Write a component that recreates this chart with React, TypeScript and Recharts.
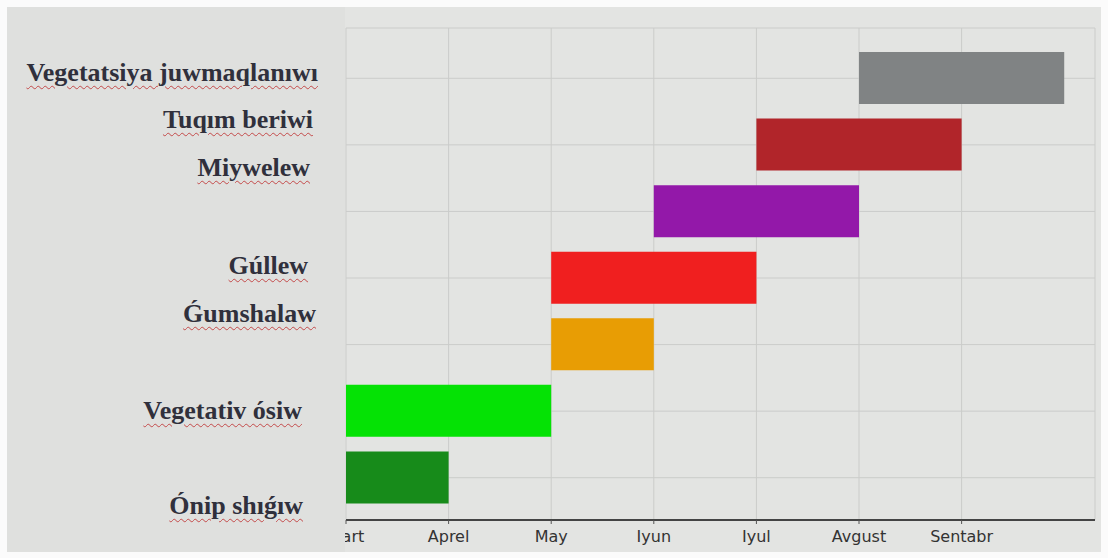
import React from 'react'
import { BarChart, Bar, XAxis, YAxis, CartesianGrid, Cell } from 'recharts'

// Phenology stages, top row first (months counted from Mart = 0)
const stages = [
  'Vegetatsiya juwmaqlanıwı',
  'Tuqım beriwi',
  'Miywelew',
  'Gúllew',
  'Ǵumshalaw',
  'Vegetativ ósiw',
  'Ónip shıǵıw',
]
const starts = [5, 4, 3, 2, 2, 0, 0]
const ends = [7, 6, 5, 4, 3, 2, 1]
const colors = ['#808384', '#b1252a', '#9318a9', '#f01f1f', '#e89d04', '#05e205', '#178b1a']

const months = ['Mart', 'Aprel', 'May', 'Iyun', 'Iyul', 'Avgust', 'Sentabr']
const monthTicks = [0, 1, 2, 3, 4, 5, 6]

// text boxes pasted over the left side (they don't line up with the bars)
const noteNames = [
  'Vegetatsiya juwmaqlanıwı',
  'Tuqım beriwi',
  'Miywelew',
  'Gúllew',
  'Ǵumshalaw',
  'Vegetativ ósiw',
  'Ónip shıǵıw',
]
const noteCenters = [73, 120, 168, 266, 314, 411, 506]
const noteRights = [318, 313, 310, 308, 316, 302, 303]

const data = stages.map((name, i) => ({ name, range: [starts[i], ends[i]] }))

const W = 1108
const H = 558
const PLOT_LEFT = 346

const YTick = (props: any) => (
  <line x1={PLOT_LEFT} x2={PLOT_LEFT + 5} y1={props.y} y2={props.y} stroke="#666" strokeWidth={1.5} />
)

export default function App() {
  return (
    <div style={{ position: 'absolute', left: 0, top: 0, width: W, height: H, background: '#fbfbfb', overflow: 'hidden' }}>
      <div style={{ position: 'absolute', left: 7, top: 7, width: 1094, height: 545, background: '#e3e4e2' }} />
      <div style={{ position: 'absolute', left: 0, top: 0 }}>
        <BarChart
          width={W}
          height={H}
          data={data}
          layout="vertical"
          margin={{ top: 28, right: 13, bottom: 8, left: PLOT_LEFT }}
        >
          <CartesianGrid stroke="#cbccca" strokeWidth={1} />
          <XAxis
            type="number"
            domain={[0, 7.3]}
            ticks={monthTicks}
            tickFormatter={(v: number) => months[v]}
            allowDataOverflow
            height={30}
            axisLine={{ stroke: '#444', strokeWidth: 2 }}
            tickLine={{ stroke: '#555' }}
            tickSize={4}
            tick={{ fill: '#333', fontSize: 16, fontFamily: 'DejaVu Sans', dy: 5 }}
          />
          <YAxis
            type="category"
            dataKey="name"
            width={0}
            padding={{ top: 17, bottom: 9 }}
            axisLine={{ stroke: '#8a8a8a' }}
            tickLine={false}
            tick={<YTick />}
          />
          <Bar dataKey="range" barSize={52} isAnimationActive={false}>
            {data.map((d, i) => (
              <Cell key={d.name} fill={colors[i]} />
            ))}
          </Bar>
        </BarChart>
      </div>
      <div style={{ position: 'absolute', left: 7, top: 7, width: PLOT_LEFT - 8, height: 545, background: '#dfe0de' }} />
      {noteNames.map((n, i) => (
        <div
          key={n}
          style={{
            position: 'absolute',
            left: 0,
            width: noteRights[i],
            top: noteCenters[i] - 15,
            lineHeight: '30px',
            textAlign: 'right',
            fontFamily: '"Liberation Serif", "Times New Roman", serif',
            fontWeight: 'bold',
            fontSize: 26,
            color: '#30303c',
            whiteSpace: 'nowrap',
            textDecoration: 'underline wavy #c44a4a',
            textDecorationThickness: '1px',
            textUnderlineOffset: '4px',
          }}
        >
          {n}
        </div>
      ))}
    </div>
  )
}
